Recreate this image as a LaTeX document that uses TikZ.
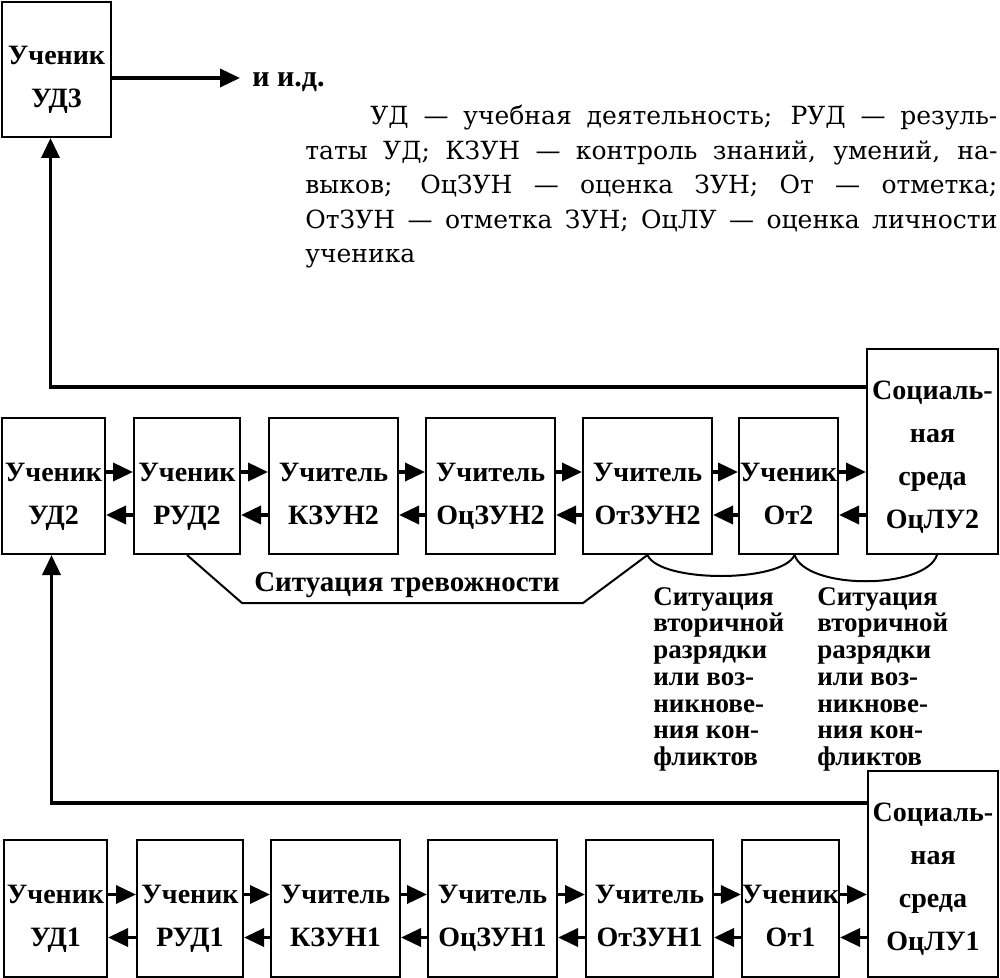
\documentclass[tikz,border=0pt]{standalone}
\usepackage{fontspec}
\setmainfont{Liberation Serif}
\newfontfamily\legendfont{DejaVu Serif}
\usetikzlibrary{arrows.meta,calc}

\tikzset{
  box/.style={draw, line width=1pt, inner sep=0pt, align=center,
    font=\bfseries\fontsize{14}{21.5}\selectfont},
  arr/.style={line width=1.8pt, -{Triangle[length=10pt,width=9pt]}},
  link/.style={line width=1pt},
  sit/.style={anchor=north west, align=left, inner sep=0pt,
    font=\bfseries\fontsize{13.5}{13.35}\selectfont},
}
\newcommand{\twolines}[2]{\rule{0pt}{20.7pt}#1\\#2\rule[-4pt]{0pt}{4pt}}

\begin{document}
\begin{tikzpicture}[x=0.5pt, y=-0.5pt]
    \useasboundingbox (0,0) rectangle (1000,978);

    % ученик УД3
    \node[box, minimum width=54.5pt, minimum height=67.5pt] (ud3) at (56.5,69.5) {\twolines{Ученик}{УД3}};
    \node[anchor=west, inner sep=0pt, inner xsep=6pt, font=\bfseries\fontsize{15}{16}\selectfont] (etc) at (240,82) {и и.д.};
    \draw[arr] ($(ud3.east)+(0,8.5)$) coordinate (r) -- (r -| etc.west);

    \node[anchor=north west, text width=346pt, align=justify, inner sep=0pt,
      font=\legendfont\fontsize{12.5}{17.25}\selectfont] (legend) at (305,105)
      {\hspace*{32.5pt}УД — учебная деятельность; РУД — резуль-\linebreak
       таты УД; КЗУН — контроль знаний, умений, на-\linebreak
       выков; ОцЗУН — оценка ЗУН; От — отметка;\linebreak
       ОтЗУН — отметка ЗУН; ОцЛУ — оценка личности\linebreak
       ученика};

    % второй ряд
    \node[box, minimum width=51.5pt, minimum height=68pt] (ud2) at (53.5,486) {\twolines{Ученик}{УД2}};
    \node[box, minimum width=53pt, minimum height=68pt] (rud2) at (187,486) {\twolines{Ученик}{РУД2}};
    \node[box, minimum width=64.5pt, minimum height=68pt] (kzun2) at (333.5,486) {\twolines{Учитель}{КЗУН2}};
    \node[box, minimum width=64.5pt, minimum height=68pt] (oczun2) at (490.5,486) {\twolines{Учитель}{ОцЗУН2}};
    \node[box, minimum width=64.5pt, minimum height=68pt] (otzun2) at (647.5,486) {\twolines{Учитель}{ОтЗУН2}};
    \node[box, minimum width=49.5pt, minimum height=68pt] (ot2) at (788.5,486) {\twolines{Ученик}{От2}};
    \node[box, minimum width=65.5pt, minimum height=102.5pt] (soc2) at (932.5,451.5)
      {\rule{0pt}{16.2pt}Социаль-\\ная\\среда\\ОцЛУ2\rule[-4pt]{0pt}{4pt}};

    % первый ряд
    \node[box, minimum width=51.5pt, minimum height=68.5pt] (ud1) at (55.5,908.5) {\twolines{Ученик}{УД1}};
    \node[box, minimum width=53pt, minimum height=68.5pt] (rud1) at (190,908.5) {\twolines{Ученик}{РУД1}};
    \node[box, minimum width=64.5pt, minimum height=68.5pt] (kzun1) at (335.5,908.5) {\twolines{Учитель}{КЗУН1}};
    \node[box, minimum width=64.5pt, minimum height=68.5pt] (oczun1) at (492.5,908.5) {\twolines{Учитель}{ОцЗУН1}};
    \node[box, minimum width=63.5pt, minimum height=68.5pt] (otzun1) at (649.5,908.5) {\twolines{Учитель}{ОтЗУН1}};
    \node[box, minimum width=48.5pt, minimum height=68.5pt] (ot1) at (790.5,908.5) {\twolines{Ученик}{От1}};
    \node[box, minimum width=65pt, minimum height=103pt] (soc1) at (933,874)
      {\rule{0pt}{16.2pt}Социаль-\\ная\\среда\\ОцЛУ1\rule[-4pt]{0pt}{4pt}};

    % стрелки туда и обратно
    \foreach \r in {1,2} {
      \foreach \a/\b in {ud/rud, rud/kzun, kzun/oczun, oczun/otzun, otzun/ot, ot/soc} {
        \path ($(\a\r.east)+(0,-14)$) coordinate (p) ($(\a\r.east)+(0,29)$) coordinate (q);
        \draw[arr] (p) -- (p -| \b\r.west);
        \draw[arr] (q -| \b\r.west) -- (q);
      }
    }

    % обратная связь
    \draw[arr] ($(soc1.north west)+(0,33)$) -| ($(ud2.south)+(-2,0)$);
    \draw[arr] ($(soc2.north west)+(0,39)$) -| ($(ud3.south)+(-6,0)$);

    % ситуации
    \draw[link] (rud2.south) -- (242,603) -- (583,603) -- (otzun2.south);
    \draw[link] (otzun2.south) .. controls +(12,28) and +(-12,28) .. ($(ot2.south)+(6,0)$);
    \draw[link] ($(ot2.south)+(6,0)$) .. controls +(12,35) and +(-12,35) .. ($(soc2.south)+(4.5,0)$);

    \node[font=\bfseries\fontsize{14.5}{16}\selectfont] (anx) at (407,585) {Ситуация тревожности};
    \node[sit] (sit1) at (653,587) {Ситуация\\вторичной\\разрядки\\или воз-\\никнове-\\ния кон-\\фликтов};
    \node[sit] (sit2) at (817,587) {Ситуация\\вторичной\\разрядки\\или воз-\\никнове-\\ния кон-\\фликтов};
\end{tikzpicture}
\end{document}
